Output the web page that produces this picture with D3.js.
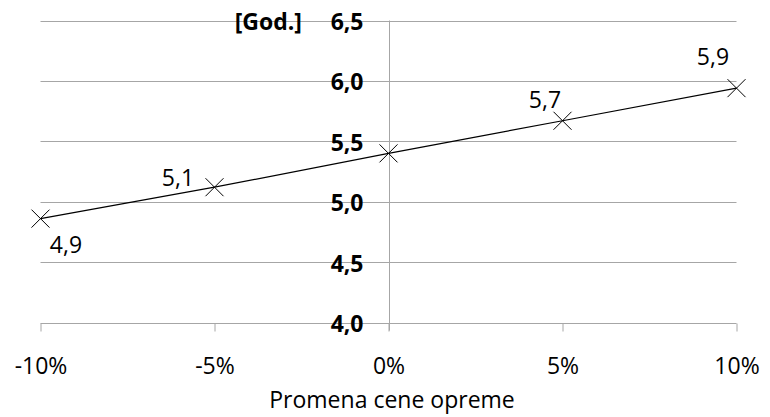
<!DOCTYPE html>
<html>
<head>
<meta charset="utf-8">
<script src="https://cdn.jsdelivr.net/npm/d3@7"></script>
<style>
  html, body { margin: 0; padding: 0; background: #fff; }
  svg { display: block; }
  text { font-family: "Open Sans", "Lato", sans-serif; fill: #000; }
</style>
</head>
<body>
<svg id="chart" width="770" height="417"></svg>
<script>
const categories = [-10, -5, 0, 5, 10];
const tickLabels = ["-10%", "-5%", "0%", "5%", "10%"];
const values = [4.86, 5.12, 5.40, 5.67, 5.94];
const valueLabels = ["4,9", "5,1", "", "5,7", "5,9"];
const yTicks = [4.0, 4.5, 5.0, 5.5, 6.0, 6.5];
const yTickLabels = ["4,0", "4,5", "5,0", "5,5", "6,0", "6,5"];
const yUnit = "[God.]";
const xTitle = "Promena cene opreme";

const FS = "23px";
const svg = d3.select("#chart");
const x = d3.scaleLinear().domain([-10, 10]).range([40.5, 736.5]);
const y = d3.scaleLinear().domain([4.0, 6.5]).range([322.5, 20.5]);
const grid = "#a6a6a6";

// horizontal gridlines
svg.append("g").selectAll("line").data(yTicks.slice(1)).join("line")
  .attr("x1", x(-10)).attr("x2", x(10))
  .attr("y1", d => Math.round(y(d)) + 0.5).attr("y2", d => Math.round(y(d)) + 0.5)
  .attr("stroke", grid).attr("stroke-width", 1);

// x axis at 4.0
const xAxis = d3.axisBottom(x).tickValues(categories).tickSize(8).tickFormat((d, i) => tickLabels[i]);
const gx = svg.append("g").attr("transform", `translate(0,${Math.round(y(4.0)) + 0.5})`).call(xAxis);
gx.select(".domain").attr("stroke", grid).attr("d", `M${x(-10)},0H${x(10)}`);
gx.selectAll(".tick line").attr("stroke", grid);
gx.selectAll(".tick text").attr("y", 50.5).attr("dy", "0")
  .style("font-size", FS).style("font-family", "'Open Sans', sans-serif").attr("fill", "#000");

// vertical axis at 0%
const yAxis = d3.axisLeft(y).tickValues(yTicks).tickSize(0).tickPadding(26)
  .tickFormat((d, i) => yTickLabels[i]);
const gy = svg.append("g").attr("transform", `translate(${Math.round(x(0)) + 0.5},0)`).call(yAxis);
gy.select(".domain").attr("stroke", grid).attr("d", `M0,${y(6.5)}V${y(4.0) + 8}`);
gy.selectAll(".tick text").attr("dy", "9px")
  .style("font-size", FS).style("font-weight", "bold")
  .style("font-family", "'Open Sans', sans-serif").attr("fill", "#000");

// unit label
svg.append("text").attr("x", 302).attr("y", y(6.5) + 9)
  .attr("text-anchor", "end").style("font-size", FS).style("font-weight", "bold")
  .text(yUnit);

// line
const line = d3.line().x((d, i) => x(categories[i])).y(d => y(d));
svg.append("path").datum(values).attr("d", line)
  .attr("fill", "none").attr("stroke", "#000").attr("stroke-width", 1.2);

// markers
const m = 9;
svg.append("g").selectAll("path").data(values).join("path")
  .attr("d", (d, i) => {
    const cx = x(categories[i]), cy = y(d);
    return `M${cx - m},${cy - m}L${cx + m},${cy + m}M${cx - m},${cy + m}L${cx + m},${cy - m}`;
  })
  .attr("stroke", "#000").attr("stroke-width", 1).attr("fill", "none");

// value labels
const offsets = [[25.5, 34.7], [-36.5, -1.7], [0, 0], [-17.5, -13], [-23.5, -22.7]];
svg.append("g").selectAll("text").data(values).join("text")
  .attr("x", (d, i) => x(categories[i]) + offsets[i][0])
  .attr("y", (d, i) => y(d) + offsets[i][1])
  .attr("text-anchor", "middle")
  .style("font-size", FS)
  .text((d, i) => valueLabels[i]);

// x title
svg.append("text").attr("x", 392).attr("y", 408).attr("text-anchor", "middle")
  .style("font-size", FS).text(xTitle);
</script>
</body>
</html>
